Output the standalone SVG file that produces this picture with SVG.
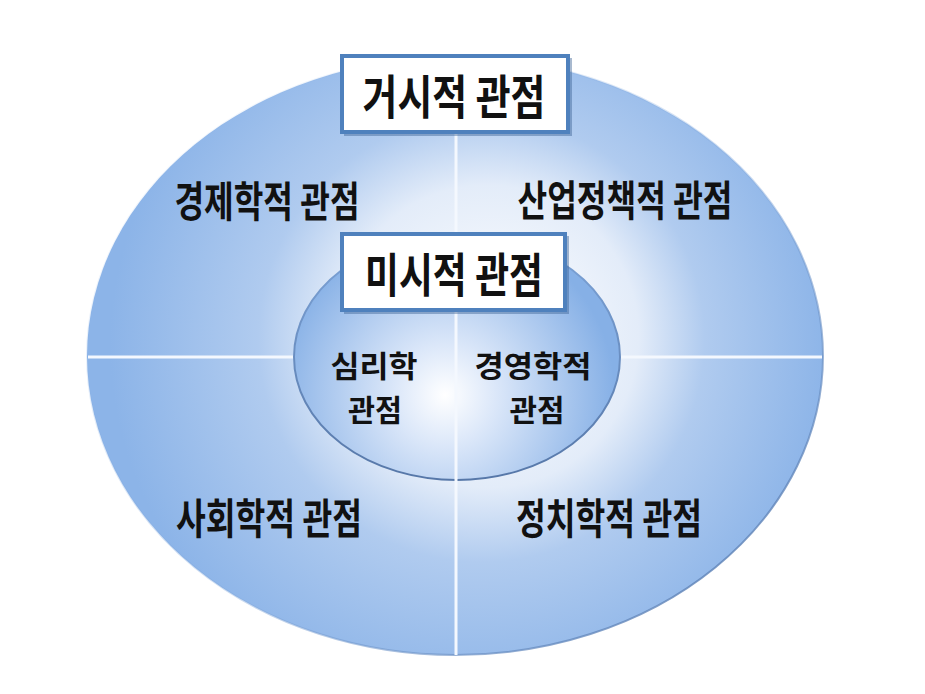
<svg xmlns="http://www.w3.org/2000/svg" width="925" height="694" viewBox="0 0 925 694">
  <defs>
    <radialGradient id="outerFill" gradientUnits="userSpaceOnUse" cx="470" cy="345" r="360" fx="500" fy="330">
      <stop offset="0" stop-color="#ffffff"/>
      <stop offset="0.42" stop-color="#e3ecf9"/>
      <stop offset="0.62" stop-color="#b0cbef"/>
      <stop offset="1" stop-color="#8cb4e8"/>
    </radialGradient>
    <radialGradient id="innerFill" gradientUnits="userSpaceOnUse" cx="445" cy="395" r="170">
      <stop offset="0" stop-color="#ffffff"/>
      <stop offset="0.3" stop-color="#dbe7f9"/>
      <stop offset="1" stop-color="#86b0e6"/>
    </radialGradient>
    <linearGradient id="outerEdge" x1="0" y1="0" x2="1" y2="1">
      <stop offset="0" stop-color="#8db5e9" stop-opacity="0"/>
      <stop offset="0.55" stop-color="#7fa6da" stop-opacity="0.4"/>
      <stop offset="1" stop-color="#4f72a6"/>
    </linearGradient>
    <linearGradient id="innerEdge" x1="0" y1="0" x2="0" y2="1">
      <stop offset="0" stop-color="#7ea5d9"/>
      <stop offset="1" stop-color="#5677a8"/>
    </linearGradient>
  </defs>
  <style>
    .lbl { font-family: "Noto Sans CJK KR", "Noto Sans", sans-serif; font-weight: bold; fill: #111111; text-anchor: middle; }
    .box { fill: #ffffff; stroke: #4f81bd; stroke-width: 4; }
    .boxshadow { fill: #3f6494; opacity: 0.45; }
    .divider { stroke: #f4f8fe; stroke-width: 3; }
  </style>

  <g id="outer-ellipse">
    <ellipse cx="455" cy="356" rx="368" ry="299" fill="url(#outerFill)" stroke="url(#outerEdge)" stroke-width="2"/>
  </g>

  <g id="connectors">
    <line class="divider" x1="88" y1="357" x2="822" y2="357"/>
  </g>

  <g id="inner-ellipse">
    <ellipse cx="457" cy="357" rx="163" ry="123" fill="url(#innerFill)" stroke="url(#innerEdge)" stroke-width="2"/>
  </g>

  <g id="connectors-vertical">
    <line class="divider" x1="456" y1="134" x2="456" y2="655"/>
  </g>

  <g id="macro-box">
    <rect class="boxshadow" x="344" y="58" width="228" height="78"/>
    <rect class="box" x="342" y="56" width="226" height="76"/>
    <text class="lbl" x="454" y="114" font-size="47" textLength="183" lengthAdjust="spacingAndGlyphs">거시적 관점</text>
  </g>

  <g id="micro-box">
    <rect class="boxshadow" x="344" y="236" width="225" height="78"/>
    <rect class="box" x="342" y="234" width="223" height="76"/>
    <text class="lbl" x="454" y="292" font-size="47" textLength="178" lengthAdjust="spacingAndGlyphs">미시적 관점</text>
  </g>

  <g id="economics">
    <text class="lbl" x="267" y="217" font-size="42" textLength="185" lengthAdjust="spacingAndGlyphs">경제학적 관점</text>
  </g>
  <g id="industrial-policy">
    <text class="lbl" x="625" y="216" font-size="42" textLength="215" lengthAdjust="spacingAndGlyphs">산업정책적 관점</text>
  </g>
  <g id="sociology">
    <text class="lbl" x="269" y="534" font-size="42" textLength="186" lengthAdjust="spacingAndGlyphs">사회학적 관점</text>
  </g>
  <g id="politics">
    <text class="lbl" x="609" y="534" font-size="42" textLength="186" lengthAdjust="spacingAndGlyphs">정치학적 관점</text>
  </g>

  <g id="psychology">
    <text class="lbl" x="374" y="377" font-size="30" textLength="87" lengthAdjust="spacingAndGlyphs">심리학</text>
    <text class="lbl" x="375" y="421" font-size="30" textLength="54" lengthAdjust="spacingAndGlyphs">관점</text>
  </g>
  <g id="management">
    <text class="lbl" x="533" y="377" font-size="30" textLength="117" lengthAdjust="spacingAndGlyphs">경영학적</text>
    <text class="lbl" x="537" y="421" font-size="30" textLength="55" lengthAdjust="spacingAndGlyphs">관점</text>
  </g>
</svg>
